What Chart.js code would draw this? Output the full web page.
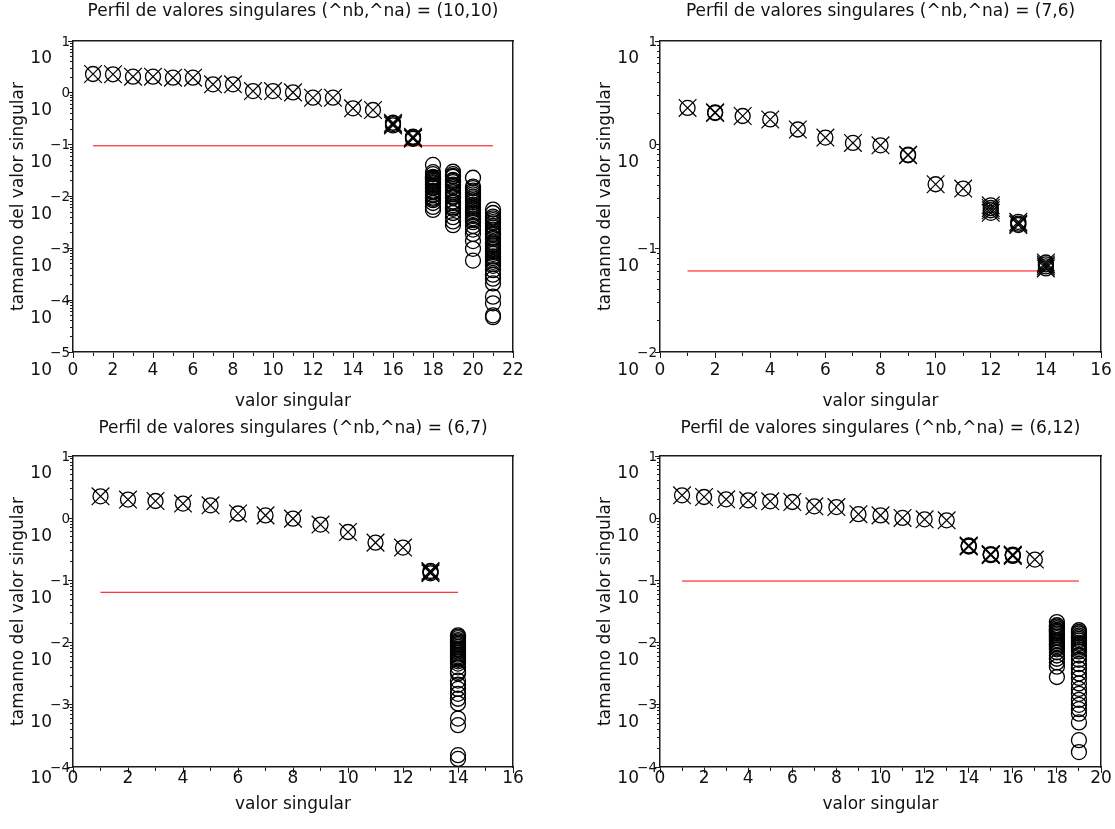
<!DOCTYPE html>
<html>
<head>
<meta charset="utf-8">
<script src="https://cdn.jsdelivr.net/npm/chart.js@4.4.1/dist/chart.umd.min.js"></script>
<style>
  html, body { margin: 0; padding: 0; background: #fff; }
  body { width: 1115px; height: 829px; position: relative; overflow: hidden; }
  .panel { position: absolute; }
  canvas { display: block; }
</style>
</head>
<body>
<div class="panel" style="left:0px;top:0px"><canvas id="c1" width="557" height="414"></canvas></div>
<div class="panel" style="left:557px;top:0px"><canvas id="c2" width="558" height="414"></canvas></div>
<div class="panel" style="left:0px;top:414px"><canvas id="c3" width="557" height="415"></canvas></div>
<div class="panel" style="left:557px;top:414px"><canvas id="c4" width="558" height="415"></canvas></div>
<script>
// singular value profiles, one list of values per singular value index (1..n)

// (^nb,^na) = (10,10)
const p1Title = "Perfil de valores singulares (^nb,^na) = (10,10)";
const p1Values = [
  [2.31], [2.28], [2.05], [2.05], [1.96], [1.96], [1.46], [1.46], [1.08], [1.08],
  [1.02], [0.805], [0.805], [0.503], [0.466], [0.235, 0.25, 0.265], [0.13, 0.136, 0.142],
  [0.0407, 0.0295, 0.027, 0.024, 0.023, 0.022, 0.021, 0.020, 0.019, 0.018, 0.017, 0.016, 0.015, 0.0145, 0.013, 0.0125,
   0.012, 0.011, 0.0105, 0.0095, 0.009, 0.0085, 0.0075, 0.0063, 0.0055],
  [0.030, 0.027, 0.025, 0.024, 0.021, 0.020, 0.019, 0.017, 0.016, 0.015, 0.013, 0.012, 0.011, 0.010, 0.0095, 0.008,
   0.0075, 0.0068, 0.0062, 0.0058, 0.0048, 0.004, 0.0033, 0.0028],
  [0.023, 0.0155, 0.0145, 0.013, 0.012, 0.011, 0.010, 0.0092, 0.0085, 0.0078, 0.007, 0.0065, 0.006, 0.0055, 0.005,
   0.0046, 0.0042, 0.0038, 0.0035, 0.0032, 0.0027, 0.0023, 0.0019, 0.00138, 0.00098, 0.00058],
  [0.0056, 0.0048, 0.0041, 0.0038, 0.0035, 0.0032, 0.003, 0.0027, 0.0025, 0.0023, 0.0021, 0.0019, 0.0018, 0.0016,
   0.0015, 0.0013, 0.0012, 0.0011, 0.001, 0.00092, 0.00085, 0.00078, 0.0007, 0.00065, 0.0006, 0.00055, 0.0005,
   0.00046, 0.00038, 0.00031, 0.00026, 0.00021, 0.000117, 0.000087, 0.000051, 0.000047]
];
const p1Kept = 17;
const p1Threshold = 0.095;
const p1XMax = 22;
const p1YExps = [-5, -4, -3, -2, -1, 0, 1];

// (^nb,^na) = (7,6)
const p2Title = "Perfil de valores singulares (^nb,^na) = (7,6)";
const p2Values = [
  [2.26], [2.02, 2.05], [1.89], [1.75], [1.40], [1.17], [1.04], [0.986], [0.79, 0.80], [0.415],
  [0.377], [0.22, 0.233, 0.245, 0.26], [0.168, 0.173, 0.18], [0.064, 0.067, 0.070, 0.073]
];
const p2Kept = 14;
const p2Threshold = 0.0605;
const p2XMax = 16;
const p2YExps = [-2, -1, 0, 1];

// (^nb,^na) = (6,7)
const p3Title = "Perfil de valores singulares (^nb,^na) = (6,7)";
const p3Values = [
  [2.25], [1.99], [1.89], [1.72], [1.61], [1.19], [1.11], [0.984], [0.79], [0.60],
  [0.405], [0.337], [0.13, 0.136, 0.142],
  [0.0131, 0.0125, 0.0118, 0.011, 0.0105, 0.01, 0.0095, 0.009, 0.0085, 0.008, 0.0076, 0.0072, 0.0068, 0.0064, 0.006,
   0.0056, 0.0053, 0.005, 0.0046, 0.004, 0.0034, 0.0032, 0.00245, 0.0021, 0.0018, 0.0015, 0.00125, 0.00105,
   0.0006, 0.00047, 0.000155, 0.000135]
];
const p3Kept = 13;
const p3Threshold = 0.0644;
const p3XMax = 16;
const p3YExps = [-4, -3, -2, -1, 0, 1];

// (^nb,^na) = (6,12)
const p4Title = "Perfil de valores singulares (^nb,^na) = (6,12)";
const p4Values = [
  [2.33], [2.19], [2.01], [1.94], [1.87], [1.82], [1.55], [1.51], [1.16], [1.11],
  [1.01], [0.96], [0.925], [0.35, 0.357, 0.365], [0.255, 0.26, 0.265], [0.248, 0.254, 0.26], [0.216],
  [0.0214, 0.019, 0.018, 0.017, 0.016, 0.0155, 0.0148, 0.014, 0.0132, 0.0125, 0.0118, 0.011, 0.0104, 0.0098, 0.0093,
   0.0088, 0.0083, 0.0078, 0.007, 0.0062, 0.0055, 0.0048, 0.0041, 0.0028],
  [0.0158, 0.0148, 0.014, 0.013, 0.0122, 0.0115, 0.0108, 0.01, 0.0095, 0.0088, 0.0083, 0.0078, 0.0072, 0.0062,
   0.0053, 0.0045, 0.0038, 0.0032, 0.0027, 0.0022, 0.0018, 0.0015, 0.0012, 0.001, 0.00085, 0.00072, 0.00052,
   0.00027, 0.000174]
];
const p4Kept = 17;
const p4Threshold = 0.0977;
const p4XMax = 20;
const p4YExps = [-4, -3, -2, -1, 0, 1];

const minorSteps = [2, 3, 4, 5, 6, 7, 8, 9];

Chart.defaults.font.family = '"DejaVu Sans", sans-serif';
Chart.defaults.font.size = 17;
Chart.defaults.color = "#111";

const axisColor = "#1a1a1a";

// "10" with the exponent above-right, like the original plot
const yPowerLabels = {
  id: "yPowerLabels",
  afterDraw(chart, args, opts) {
    const y = chart.scales.y;
    const left = chart.chartArea.left;
    const ctx = chart.ctx;
    ctx.save();
    ctx.fillStyle = "#111";
    ctx.textAlign = "right";
    ctx.textBaseline = "middle";
    opts.exps.forEach((e, i) => {
      const py = y.getPixelForValue(Math.pow(10, e));
      ctx.font = '13.5px "DejaVu Sans"';
      ctx.fillText(e < 0 ? "\u2212" + (-e) : String(e), left - 3, py + 1);
      ctx.font = '17px "DejaVu Sans"';
      ctx.fillText("10", left - 21, py + (i === 0 ? opts.lowGap : 18));
    });
    ctx.restore();
  }
};

function toPoints(values, upTo) {
  const pts = [];
  values.forEach((vals, i) => {
    if (i >= upTo) return;
    vals.forEach(v => pts.push({ x: i + 1, y: v }));
  });
  return pts;
}

function makePanel(id, title, values, kept, threshold, xMax, yExps, lay) {
  new Chart(document.getElementById(id), {
    type: "scatter",
    data: {
      datasets: [
        {
          data: toPoints(values, values.length),
          pointStyle: "circle",
          pointRadius: 7.5,
          pointBorderWidth: 1.3,
          pointBorderColor: "#000",
          pointBackgroundColor: "rgba(0,0,0,0)",
          order: 1
        },
        {
          data: toPoints(values, kept),
          pointStyle: "crossRot",
          pointRadius: 12.5,
          pointBorderWidth: 1.2,
          pointBorderColor: "#000",
          pointBackgroundColor: "rgba(0,0,0,0)",
          order: 0
        },
        {
          data: [{ x: 1, y: threshold }, { x: values.length, y: threshold }],
          showLine: true,
          borderColor: "#ff0000",
          borderWidth: 1,
          pointRadius: 0,
          order: 2
        }
      ]
    },
    options: {
      responsive: false,
      animation: false,
      events: [],
      layout: { padding: { left: lay.padLeft, right: lay.padRight, top: 0, bottom: 0 } },
      plugins: {
        legend: { display: false },
        tooltip: { enabled: false },
        title: {
          display: true,
          text: title,
          fullSize: false,
          color: "#111",
          font: { size: 17, weight: "normal" },
          padding: { top: lay.titleTop, bottom: lay.titleBottom }
        },
        yPowerLabels: { exps: yExps, lowGap: lay.gap }
      },
      scales: {
        x: {
          type: "linear",
          position: "bottom",
          min: 0,
          max: xMax,
          afterFit: s => { s.height = 62; },
          ticks: {
            stepSize: 1,
            autoSkip: false,
            maxRotation: 0,
            padding: lay.gap - 6 - 10.2,
            color: "#111",
            callback: v => (v % 2 === 0 ? String(v) : "")
          },
          grid: {
            drawOnChartArea: false,
            tickLength: 6,
            tickColor: axisColor,
            tickWidth: 1,
            tickBorderDash: c => (c.tick && c.tick.value % 2 !== 0 ? [3.5, 100] : [])
          },
          border: { display: true, color: axisColor, width: 1.5 },
          title: {
            display: true,
            text: "valor singular",
            color: "#111",
            padding: { top: 0, bottom: lay.xTitleBottom }
          }
        },
        y: {
          type: "logarithmic",
          position: "left",
          min: Math.pow(10, yExps[0]),
          max: Math.pow(10, yExps[yExps.length - 1]),
          afterFit: s => { s.width = 73; },
          afterBuildTicks: s => {
            const ticks = [];
            yExps.forEach((e, i) => {
              const base = Math.pow(10, e);
              ticks.push({ value: base, major: true });
              if (i < yExps.length - 1) minorSteps.forEach(m => ticks.push({ value: m * base, major: false }));
            });
            s.ticks = ticks;
          },
          ticks: { display: false },
          grid: {
            drawOnChartArea: false,
            tickLength: 5,
            tickColor: axisColor,
            tickWidth: 1,
            tickBorderDash: c => (c.tick && !c.tick.major ? [0, 2, 3, 100] : [])
          },
          border: { display: true, color: axisColor, width: 1.5 },
          title: {
            display: true,
            text: "tamanno del valor singular",
            color: "#111",
            padding: { top: 8.8, bottom: 0 }
          }
        },
        xTop: {
          type: "linear",
          position: "top",
          min: 0,
          max: xMax,
          afterFit: s => { s.height = 0; },
          ticks: { display: false },
          grid: { display: false, drawTicks: false, tickLength: 0 },
          border: { display: true, color: axisColor, width: 1.5 }
        },
        yRight: {
          type: "linear",
          position: "right",
          min: 0,
          max: 1,
          afterFit: s => { s.width = 0; },
          ticks: { display: false },
          grid: { display: false, drawTicks: false, tickLength: 0 },
          border: { display: true, color: axisColor, width: 1.5 }
        }
      }
    },
    plugins: [yPowerLabels]
  });
}

makePanel("c1", p1Title, p1Values, p1Kept, p1Threshold, p1XMax, p1YExps,
  { padLeft: 0, padRight: 44, titleTop: 1.8, titleBottom: 18.8, gap: 19, xTitleBottom: 1.8 });
makePanel("c2", p2Title, p2Values, p2Kept, p2Threshold, p2XMax, p2YExps,
  { padLeft: 30, padRight: 14, titleTop: 1.8, titleBottom: 18.8, gap: 19, xTitleBottom: 1.8 });
makePanel("c3", p3Title, p3Values, p3Kept, p3Threshold, p3XMax, p3YExps,
  { padLeft: 0, padRight: 44, titleTop: 4.8, titleBottom: 16.8, gap: 12, xTitleBottom: 13.8 });
makePanel("c4", p4Title, p4Values, p4Kept, p4Threshold, p4XMax, p4YExps,
  { padLeft: 30, padRight: 14, titleTop: 4.8, titleBottom: 16.8, gap: 12, xTitleBottom: 13.8 });
</script>
</body>
</html>
